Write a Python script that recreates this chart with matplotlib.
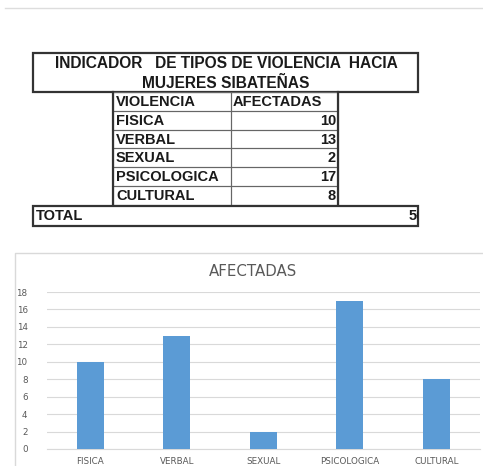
import matplotlib.pyplot as plt
from matplotlib.patches import Rectangle

# data
title_lines = ["INDICADOR   DE TIPOS DE VIOLENCIA  HACIA", "MUJERES SIBATEÑAS"]
header = ["VIOLENCIA", "AFECTADAS"]
categories = ["FISICA", "VERBAL", "SEXUAL", "PSICOLOGICA", "CULTURAL"]
afectadas = [10, 13, 2, 17, 8]
total = sum(afectadas)

W, H = 483, 466
fig = plt.figure(figsize=(W / 100, H / 100), dpi=100)
fig.patch.set_facecolor("white")

# canvas in pixel coordinates for the table
bg = fig.add_axes([0, 0, 1, 1])
bg.set_xlim(0, W)
bg.set_ylim(H, 0)
bg.axis("off")

bg.plot([5, 483], [8, 8], color="#dddddd", lw=1)

font_tab = dict(family="Liberation Sans", weight="bold", color="#1a1a1a")
edge = "#333333"
fs = 10.5

# title box
bg.add_patch(Rectangle((33, 53), 385, 39, fill=False, ec=edge, lw=1.6))
bg.text(226, 64, title_lines[0], ha="center", va="center", fontsize=11.2, **font_tab)
bg.text(226, 83, title_lines[1], ha="center", va="center", fontsize=11.2, **font_tab)

# inner table
x0, xm, x1 = 113, 231, 338
row_h = 18.8
y = 92
rows = [header] + [[c, str(v)] for c, v in zip(categories, afectadas)]
for i, (a, b) in enumerate(rows):
    yt = y + i * row_h
    bg.add_patch(Rectangle((x0, yt), xm - x0, row_h, fill=False, ec="#666666", lw=0.8))
    bg.add_patch(Rectangle((xm, yt), x1 - xm, row_h, fill=False, ec="#666666", lw=0.8))
    bg.text(x0 + 3, yt + row_h / 2 + 0.5, a, ha="left", va="center", fontsize=fs, **font_tab)
    if i == 0:
        bg.text(xm + 2, yt + row_h / 2 + 0.5, b, ha="left", va="center", fontsize=fs, **font_tab)
    else:
        bg.text(x1 - 2, yt + row_h / 2 + 0.5, b, ha="right", va="center", fontsize=fs, **font_tab)
bg.plot([x0, x0], [92, 92 + 6 * row_h], color=edge, lw=1.6)
bg.plot([x1, x1], [92, 92 + 6 * row_h], color=edge, lw=1.6)

# total row
tot_box = Rectangle((33, 206), 385, 20, fill=False, ec=edge, lw=1.6)
bg.add_patch(tot_box)
bg.text(36, 216.5, "TOTAL", ha="left", va="center", fontsize=fs, **font_tab)
t = bg.text(425, 216.5, str(total), ha="right", va="center", fontsize=fs, **font_tab)
t.set_clip_on(True)
t.set_clip_path(tot_box)

# chart border
bg.plot([15, 15, 483], [466, 253, 253], color="#d9d9d9", lw=1)

# bar chart
ax = fig.add_axes([47 / W, 1 - 449 / H, (479.5 - 47) / W, 157 / H])
x = range(len(categories))
ax.bar(x, afectadas, width=0.31, color="#5b9bd5", zorder=3)
ax.set_xlim(-0.5, len(categories) - 0.5)
ax.set_ylim(0, 18)
ax.set_yticks(range(0, 19, 2))
ax.set_xticks(list(x))
ax.set_xticklabels(categories)
ax.grid(axis="y", color="#d9d9d9", lw=0.8, zorder=0)
for s in ["top", "right", "left"]:
    ax.spines[s].set_visible(False)
ax.spines["bottom"].set_color("#d9d9d9")
ax.tick_params(length=0, labelsize=6.3, colors="#595959")
ax.tick_params(axis="x", pad=6)
ax.tick_params(axis="y", pad=14)
ax.set_facecolor("none")
fig.text(253 / W, 1 - 272 / H, "AFECTADAS", ha="center", va="center",
         fontsize=10.8, color="#595959")

fig.savefig("out.png", dpi=100)
